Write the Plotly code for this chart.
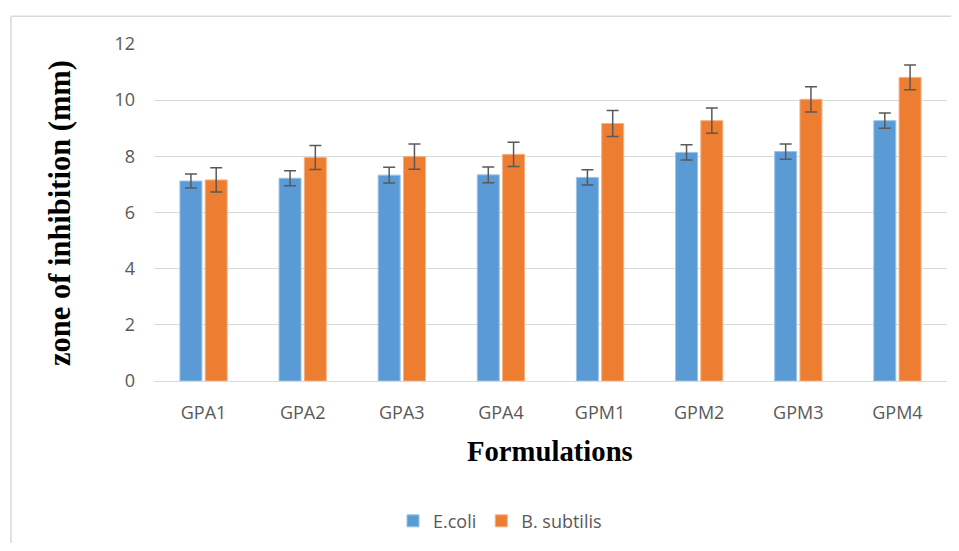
import plotly.graph_objects as go

categories = ["GPA1", "GPA2", "GPA3", "GPA4", "GPM1", "GPM2", "GPM3", "GPM4"]
ecoli = [7.12, 7.22, 7.33, 7.34, 7.25, 8.14, 8.17, 9.27]
ecoli_err = [0.25, 0.27, 0.28, 0.28, 0.27, 0.27, 0.27, 0.27]
bsub = [7.16, 7.96, 7.99, 8.07, 9.17, 9.27, 10.03, 10.81]
bsub_err = [0.43, 0.43, 0.45, 0.43, 0.46, 0.45, 0.45, 0.44]
y_ticks = [0, 2, 4, 6, 8, 10, 12]

OFF = 8  # page body margin
W, H = 959 - 2 * OFF, 551 - 2 * OFF
# plot area in screen pixels
PX0, PX1, PY0, PY1 = 154, 947, 44, 383
L, T = PX0 - OFF, PY0 - OFF
R = W - (PX1 - OFF)
B = H - (PY1 - OFF)
pw, ph = PX1 - PX0, PY1 - PY0

def px(x):
    return (x - PX0) / pw

def py(y):
    return (PY1 - y) / ph

tick_font = dict(family="Open Sans", size=18, color="#595959")
err_style = dict(type="data", visible=True, color="#595959", thickness=1.5, width=6)
border = dict(color="#d9d9d9", width=1.5)

fig = go.Figure()
fig.add_trace(go.Bar(
    name="E.coli", x=categories, y=ecoli,
    error_y=dict(array=ecoli_err, **err_style),
    marker=dict(color="#5b9bd5", line=dict(color="#9dc3e6", width=1)),
))
fig.add_trace(go.Bar(
    name="B. subtilis", x=categories, y=bsub,
    error_y=dict(array=bsub_err, **err_style),
    marker=dict(color="#ed7d31", line=dict(color="#f4b183", width=1)),
))

fig.update_layout(
    width=W, height=H,
    margin=dict(l=L, r=R, t=T, b=B, pad=0),
    paper_bgcolor="white", plot_bgcolor="white",
    barmode="group", bargap=0.49, bargroupgap=0.13,
    showlegend=True,
    legend=dict(orientation="h", x=px(500), y=py(524), xanchor="center", yanchor="middle",
                font=tick_font, itemwidth=30, traceorder="normal"),
    xaxis=dict(showgrid=False, showline=False, zeroline=False, tickfont=tick_font,
               ticks="", ticklabelstandoff=19),
    yaxis=dict(range=[0, 12], tickvals=y_ticks, showgrid=True, gridcolor="#d9d9d9", gridwidth=1,
               zeroline=True, zerolinecolor="#d9d9d9", zerolinewidth=1, showline=False,
               tickfont=tick_font, ticks="", ticklabelstandoff=18),
    annotations=[
        dict(text="<b>Formulations</b>", x=px(550), y=py(453), xref="paper", yref="paper",
             showarrow=False, xanchor="center", yanchor="middle",
             font=dict(family="Liberation Serif", size=28.7, color="black")),
        dict(text="<b>zone of inhibition (mm)</b>", x=px(60), y=py(214), xref="paper", yref="paper",
             showarrow=False, xanchor="center", yanchor="middle", textangle=-90,
             font=dict(family="Liberation Serif", size=30.5, color="black")),
    ],
    shapes=[
        dict(type="line", xref="paper", yref="paper",
             x0=px(11), x1=px(1000), y0=py(16), y1=py(16), line=border, layer="below"),
        dict(type="line", xref="paper", yref="paper",
             x0=px(11), x1=px(11), y0=py(16), y1=py(600), line=border, layer="below"),
    ],
)

fig.write_html("out.html")
